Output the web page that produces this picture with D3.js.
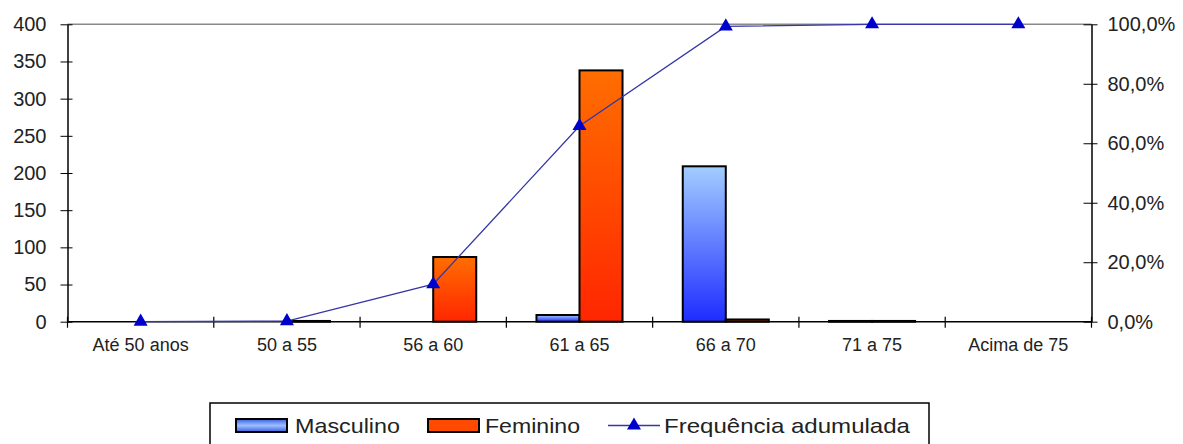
<!DOCTYPE html>
<html><head><meta charset="utf-8">
<script src="https://cdn.jsdelivr.net/npm/d3@7"></script>
<style>body{margin:0;background:#fff}svg{display:block}text{font-family:Arial,"Liberation Sans",sans-serif;fill:#222}</style>
</head><body>
<script>
const categories = ["Até 50 anos","50 a 55","56 a 60","61 a 65","66 a 70","71 a 75","Acima de 75"];
const masculino = [0, 0, 0, 9, 209, 1, 0];
const feminino = [0, 1, 87, 338, 3, 1, 0];
const cumulative = [0, 0.2, 12.6, 65.8, 99.3, 100, 100];
const leftTicks = [0,50,100,150,200,250,300,350,400];
const rightTicks = [0,20,40,60,80,100];
const seriesNames = ["Masculino","Feminino","Frequência adumulada"];

const W = 1183, H = 444;
const svg = d3.select("body").append("svg").attr("width", W).attr("height", H);
const defs = svg.append("defs");
function grad(id, top, bot, horiz){
  const g = defs.append("linearGradient").attr("id", id)
    .attr("x1",0).attr("y1",0).attr("x2",horiz?0:0).attr("y2",1);
  g.append("stop").attr("offset","0%").attr("stop-color",top);
  g.append("stop").attr("offset","100%").attr("stop-color",bot);
}
grad("gM","#a3cdff","#1f2cff");
grad("gF","#ff6e00","#ff2600");
const gl = defs.append("linearGradient").attr("id","gML").attr("x1",0).attr("y1",0).attr("x2",0).attr("y2",1);
gl.append("stop").attr("offset","0%").attr("stop-color","#3a5ee0");
gl.append("stop").attr("offset","50%").attr("stop-color","#9cc0ff");
gl.append("stop").attr("offset","100%").attr("stop-color","#3a5ee0");

const x0 = d3.scaleBand().domain(categories).range([67.5, 1091.5]).padding(0);
const x1 = d3.scaleBand().domain(["M","F"]).range([0, x0.bandwidth()]).paddingInner(0).paddingOuter(0.7);
const y = d3.scaleLinear().domain([0,400]).range([321.7, 24.3]);
const y2 = d3.scaleLinear().domain([0,100]).range([321.7, 24.3]);

// top gray line
svg.append("line").attr("x1",67.5).attr("x2",1091.5).attr("y1",y(400)).attr("y2",y(400)).attr("stroke","#8a8a8a").attr("stroke-width",1.5);

// bars
const groups = svg.append("g");
categories.forEach((c,i)=>{
  [["M",masculino[i],"url(#gM)"],["F",feminino[i],"url(#gF)"]].forEach(([k,v,fill])=>{
    if (v<=0) return;
    groups.append("rect").attr("x", x0(c)+x1(k)).attr("width", x1.bandwidth())
      .attr("y", y(v)).attr("height", y(0)-y(v))
      .attr("fill", fill).attr("stroke","#000").attr("stroke-width",2);
  });
});

// left axis
const axL = svg.append("g").attr("transform","translate(67.5,0)")
  .call(d3.axisLeft(y).tickValues(leftTicks).tickSize(6).tickPadding(14).tickSizeOuter(0));
axL.selectAll(".tick line").attr("x2",-7).attr("x1",5);
axL.select(".domain").attr("stroke","#000").attr("stroke-width",1.5);
axL.selectAll("text").style("font-size","20px").attr("fill","#222").attr("x",-21);

// right axis
const axR = svg.append("g").attr("transform","translate(1091.5,0)")
  .call(d3.axisRight(y2).tickValues(rightTicks).tickSize(6).tickSizeOuter(0)
    .tickFormat(d=>d3.format(".1f")(d).replace(".",",")+"%"));
axR.selectAll(".tick line").attr("x1",-8).attr("x2",6);
axR.select(".domain").attr("stroke","#000").attr("stroke-width",1.5);
axR.selectAll("text").style("font-size","20px").attr("fill","#222").attr("x",16);

// bottom axis
const bounds = categories.map(c=>x0(c)).concat([1091.5]);
const axB = svg.append("g").attr("transform",`translate(0,${y(0)})`);
axB.append("line").attr("x1",67.5).attr("x2",1091.5).attr("stroke","#000").attr("stroke-width",1.5);
axB.selectAll("line.t").data(bounds).join("line").attr("class","t")
  .attr("x1",d=>d).attr("x2",d=>d).attr("y1",-5).attr("y2",6).attr("stroke","#000").attr("stroke-width",1.2);
axB.selectAll("text").data(categories).join("text")
  .attr("x",c=>x0(c)+x0.bandwidth()/2).attr("y",29).attr("text-anchor","middle")
  .style("font-size","18px").text(c=>c);

// cumulative line
const cx = (c)=>x0(c)+x0.bandwidth()/2;
const lineGen = d3.line().x((d,i)=>cx(categories[i])).y(d=>y2(d));
svg.append("path").datum(cumulative).attr("d",lineGen).attr("fill","none").attr("stroke","#3636a8").attr("stroke-width",1.3);
const tri = d3.symbol().type(d3.symbolTriangle).size(85);
svg.selectAll("path.m").data(cumulative).join("path").attr("class","m")
  .attr("d",tri).attr("transform",(d,i)=>`translate(${cx(categories[i])},${y2(d)})`).attr("fill","#0000cc");

// legend
const lg = svg.append("g");
lg.append("rect").attr("x",210).attr("y",403).attr("width",719).attr("height",50).attr("fill","#fff").attr("stroke","#000").attr("stroke-width",1.5);
lg.append("rect").attr("x",236).attr("y",419).attr("width",51).attr("height",13).attr("fill","url(#gML)").attr("stroke","#000").attr("stroke-width",2);
lg.append("text").attr("x",295).attr("y",433).style("font-size","21px").attr("textLength",105).attr("lengthAdjust","spacingAndGlyphs").text(seriesNames[0]);
lg.append("rect").attr("x",428).attr("y",419).attr("width",51).attr("height",13).attr("fill","#ff4a00").attr("stroke","#000").attr("stroke-width",2);
lg.append("text").attr("x",485).attr("y",433).style("font-size","21px").attr("textLength",95).attr("lengthAdjust","spacingAndGlyphs").text(seriesNames[1]);
lg.append("line").attr("x1",608).attr("x2",660).attr("y1",425.5).attr("y2",425.5).attr("stroke","#3636a8").attr("stroke-width",1.3);
lg.append("path").attr("d",tri).attr("transform","translate(634,425.5)").attr("fill","#0000cc");
lg.append("text").attr("x",664).attr("y",433).style("font-size","21px").attr("textLength",246).attr("lengthAdjust","spacingAndGlyphs").text(seriesNames[2]);
</script>
</body></html>
